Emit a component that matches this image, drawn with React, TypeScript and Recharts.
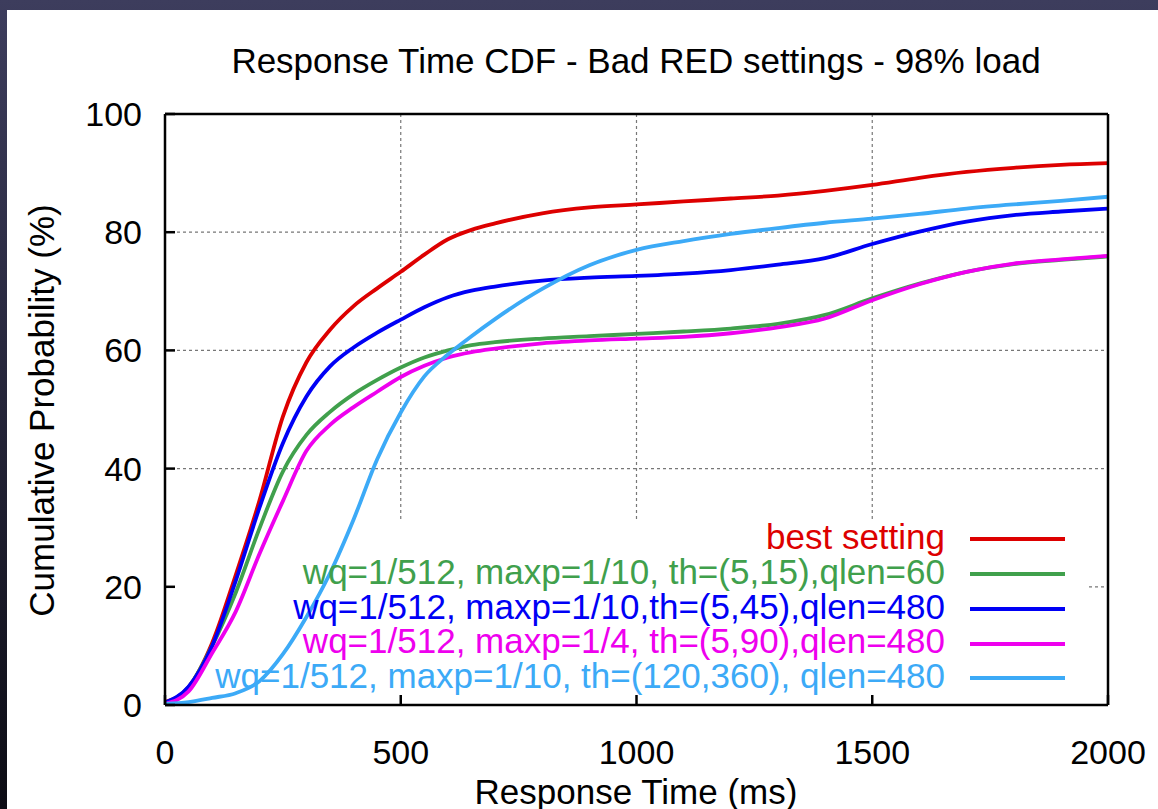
import React from 'react'
import {
    CartesianGrid,
    Legend,
    Line,
    LineChart,
    ReferenceArea,
    XAxis,
    YAxis,
} from 'recharts'

// response time (ms) sample points
const responseTimes = [
    0, 50, 100, 150, 200, 250, 300, 350, 400, 450, 500, 550, 600, 650, 700,
    800, 900, 1000, 1100, 1200, 1300, 1400, 1500, 1600, 1700, 1800, 1900, 2000,
]

// cumulative probability (%) per setting
const bestSetting = [
    0.5, 3, 10.5, 22, 34.5, 48.8, 58, 63.5, 67.5, 70.5, 73.3, 76.2, 78.8, 80.4, 81.5,
    83.2, 84.2, 84.7, 85.2, 85.7, 86.2, 87, 88, 89.2, 90.2, 90.9, 91.4, 91.7,
]
const qlen60 = [
    0.3, 3, 10, 19, 29.8, 39.5, 45.7, 49.6, 52.6, 55, 57.1, 58.8, 60, 60.9, 61.4,
    62, 62.4, 62.8, 63.2, 63.7, 64.5, 66, 68.8, 71.3, 73.3, 74.6, 75.3, 75.9,
]
const th545 = [
    0.4, 3.1, 10, 21, 33.3, 44.3, 52.2, 57.3, 60.5, 63, 65.2, 67.3, 69, 70.1, 70.8,
    71.8, 72.3, 72.6, 73, 73.6, 74.5, 75.6, 78, 80.1, 81.8, 82.9, 83.5, 84,
]
const maxp14 = [
    0.2, 2.3, 8.8, 15.8, 25.5, 34.5, 43, 47.4, 50.4, 53, 55.5, 57.4, 58.8, 59.7, 60.3,
    61.2, 61.7, 62, 62.3, 62.9, 63.9, 65.4, 68.5, 71.2, 73.3, 74.7, 75.4, 76,
]
const th120360 = [
    0.2, 0.5, 1.2, 2, 4, 8.6, 14.9, 22.3, 31.4, 41.6, 49.5, 55.6, 59.3, 62.4, 65.3,
    70.4, 74.4, 77, 78.5, 79.7, 80.7, 81.6, 82.3, 83.1, 84, 84.7, 85.3, 86,
]

const xTicks = [0, 500, 1000, 1500, 2000]
const yTicks = [0, 20, 40, 60, 80, 100]

const seriesDefs = [
    { key: 'best', name: 'best setting', color: '#dd0000', values: bestSetting },
    { key: 'q60', name: 'wq=1/512, maxp=1/10, th=(5,15),qlen=60', color: '#40a04c', values: qlen60 },
    { key: 'th45', name: 'wq=1/512, maxp=1/10,th=(5,45),qlen=480', color: '#0000f5', values: th545 },
    { key: 'mp4', name: 'wq=1/512, maxp=1/4, th=(5,90),qlen=480', color: '#ee00ee', values: maxp14 },
    { key: 'th360', name: 'wq=1/512, maxp=1/10, th=(120,360), qlen=480', color: '#3caaf7', values: th120360 },
]

const data = responseTimes.map((t, i) => {
    const row: Record<string, number> = { t }
    seriesDefs.forEach(s => {
        row[s.key] = s.values[i]
    })
    return row
})

const FONT = '"Liberation Sans", Arial, Helvetica, sans-serif'

// keep legend rows in series order (recharts sorts the payload by name)
const renderLegend = () => (
    <div style={{ width: 1065, fontFamily: FONT, fontSize: 35 }}>
        {seriesDefs.map(s => (
            <div
                key={s.key}
                style={{
                    display: 'flex',
                    justifyContent: 'flex-end',
                    alignItems: 'center',
                    height: 34.75,
                }}
            >
                <span style={{ color: s.color, lineHeight: '34.75px', whiteSpace: 'nowrap', position: 'relative', top: -2 }}>
                    {s.name}
                </span>
                <span style={{ display: 'inline-block', width: 95, height: 4, background: s.color, marginLeft: 25 }} />
            </div>
        ))}
    </div>
)

const App = () => {
    const axisStroke = { stroke: '#000', strokeWidth: 2.5 }
    return (
        <div
            style={{
                position: 'absolute',
                left: 0,
                top: 0,
                width: 1158,
                height: 809,
                overflow: 'hidden',
                background: 'linear-gradient(to bottom, #3d3d5d, #0c0c14)',
                fontFamily: FONT,
            }}
        >
            <div style={{ position: 'absolute', left: 7, top: 10, right: 0, bottom: 0, background: '#fff' }} />
            <div style={{ position: 'absolute', left: 0, top: 0 }}>
                <LineChart width={1158} height={809} data={data} margin={{ top: 0, right: 0, bottom: 0, left: 0 }}>
                    <CartesianGrid stroke="#777" strokeWidth={1.2} strokeDasharray="3 3" />
                    <ReferenceArea x1={0} x2={1955} y1={0} y2={31} fill="#fff" fillOpacity={1} stroke="none" />
                    <XAxis
                        dataKey="t"
                        type="number"
                        domain={[0, 2000]}
                        ticks={xTicks}
                        height={104}
                        axisLine={axisStroke}
                        tickLine={axisStroke}
                        tickSize={-10}
                        tickMargin={45}
                        tick={{ fill: '#000', fontSize: 34, fontFamily: FONT }}
                    />
                    <XAxis
                        xAxisId="top"
                        orientation="top"
                        type="number"
                        domain={[0, 2000]}
                        ticks={xTicks}
                        height={114}
                        axisLine={axisStroke}
                        tickLine={axisStroke}
                        tickSize={-10}
                        tick={false}
                    />
                    <YAxis
                        type="number"
                        domain={[0, 100]}
                        ticks={yTicks}
                        width={165}
                        axisLine={axisStroke}
                        tickLine={axisStroke}
                        tickSize={-10}
                        tickMargin={33}
                        tick={{ fill: '#000', fontSize: 34, fontFamily: FONT }}
                    />
                    <YAxis
                        yAxisId="right"
                        orientation="right"
                        type="number"
                        domain={[0, 100]}
                        ticks={yTicks}
                        width={50}
                        axisLine={axisStroke}
                        tickLine={axisStroke}
                        tickSize={-10}
                        tick={false}
                    />
                    {seriesDefs.map(s => (
                        <Line
                            key={s.key}
                            type="monotone"
                            dataKey={s.key}
                            name={s.name}
                            stroke={s.color}
                            strokeWidth={3.8}
                            dot={false}
                            isAnimationActive={false}
                        />
                    ))}
                    <Legend
                        layout="horizontal"
                        verticalAlign="middle"
                        align="center"
                        content={renderLegend}
                        wrapperStyle={{ left: 0, top: 522, width: 1065, height: 175 }}
                    />
                </LineChart>
            </div>
            <div style={{ position: 'absolute', left: 136, top: 43, width: 1000, textAlign: 'center', fontSize: 35, lineHeight: '35px', color: '#000' }}>
                Response Time CDF - Bad RED settings - 98% load
            </div>
            <div style={{ position: 'absolute', left: 136, top: 774, width: 1000, textAlign: 'center', fontSize: 35, lineHeight: '35px', color: '#000' }}>
                Response Time (ms)
            </div>
            <div
                style={{
                    position: 'absolute',
                    left: 41 - 300,
                    top: 410 - 17.5,
                    width: 600,
                    textAlign: 'center',
                    fontSize: 35,
                    lineHeight: '35px',
                    color: '#000',
                    transform: 'rotate(-90deg)',
                    transformOrigin: 'center',
                }}
            >
                Cumulative Probability (%)
            </div>
        </div>
    )
}

export default App
